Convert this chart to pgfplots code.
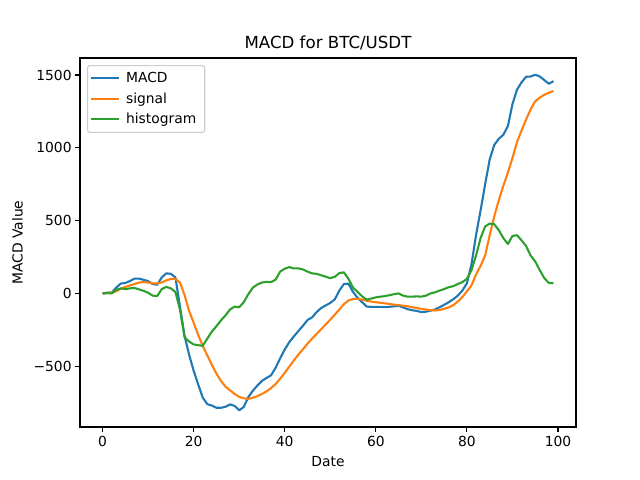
\documentclass[border=0pt]{standalone}
\usepackage{fontspec}
\setmainfont{DejaVu Sans}
\usepackage{pgfplots}
\pgfplotsset{compat=1.18}
\usepackage{pgfplotstable}

\definecolor{mplblue}{HTML}{1F77B4}
\definecolor{mplorange}{HTML}{FF7F0E}
\definecolor{mplgreen}{HTML}{2CA02C}

% columns: index, MACD, signal, histogram
\pgfplotstableread{
i macd signal hist
0 0 0 0
1 5 3 3
2 5 6 0
3 40 15 25
4 68 32 35
5 72 45 30
6 85 55 35
7 102 65 38
8 102 75 28
9 94 78 18
10 85 75 5
11 65 70 -15
12 60 68 -18
13 110 76 30
14 138 90 45
15 135 100 35
16 110 100 10
17 -90 75 -110
18 -290 -10 -300
19 -420 -120 -330
20 -530 -200 -350
21 -625 -285 -355
22 -715 -360 -360
23 -760 -425 -310
24 -770 -490 -262
25 -785 -550 -225
26 -785 -600 -185
27 -778 -640 -150
28 -762 -665 -110
29 -772 -690 -90
30 -802 -710 -95
31 -780 -720 -60
32 -712 -724 -5
33 -668 -716 40
34 -632 -705 62
35 -600 -690 75
36 -580 -672 80
37 -562 -650 78
38 -510 -622 95
39 -445 -585 150
40 -385 -545 170
41 -334 -503 181
42 -295 -460 172
43 -258 -420 172
44 -222 -383 165
45 -182 -345 150
46 -165 -310 138
47 -128 -278 135
48 -100 -245 125
49 -82 -213 115
50 -65 -180 105
51 -40 -145 115
52 20 -110 140
53 65 -73 145
54 67 -48 100
55 10 -38 40
56 -30 -37 10
57 -60 -42 -20
58 -90 -50 -42
59 -92 -56 -35
60 -92 -60 -27
61 -92 -64 -22
62 -94 -68 -18
63 -92 -72 -12
64 -88 -77 -5
65 -85 -80 0
66 -96 -84 -15
67 -108 -88 -22
68 -115 -94 -22
69 -120 -100 -20
70 -128 -106 -22
71 -125 -110 -15
72 -118 -114 0
73 -110 -117 8
74 -95 -114 20
75 -78 -105 30
76 -60 -96 43
77 -40 -80 50
78 -15 -55 65
79 20 -25 78
80 70 15 100
81 200 55 160
82 400 130 260
83 570 190 380
84 750 260 460
85 920 400 480
86 1020 530 475
87 1062 640 435
88 1090 740 380
89 1150 830 340
90 1300 930 395
91 1400 1040 400
92 1450 1120 365
93 1488 1195 325
94 1490 1265 260
95 1502 1320 220
96 1490 1345 160
97 1465 1365 105
98 1440 1378 72
99 1458 1390 70
}\macdtable

\begin{document}
\begin{tikzpicture}[x=1bp,y=1bp]
\begin{axis}[
    scale only axis,
    width=496bp, height=369bp,
    xmin=-4.95, xmax=103.95,
    ymin=-917, ymax=1617,
    xtick={0,20,40,60,80,100},
    ytick={-500,0,500,1000,1500},
    yticklabels={−500,0,500,1000,1500},
    /pgf/number format/assume math mode=true,
    tick align=outside,
    tick pos=left,
    major tick length=4.9bp,
    every tick/.style={black, line width=1.1bp},
    axis line style={line width=1.1bp},
    ticklabel style={font=\fontsize{13.9}{16}\selectfont},
    xticklabel style={yshift=-1bp},
    title={MACD for BTC/USDT},
    title style={font=\fontsize{16.7}{20}\selectfont, yshift=-2bp},
    xlabel={Date},
    ylabel={MACD Value},
    label style={font=\fontsize{13.9}{16}\selectfont},
    xlabel style={yshift=-3bp},
    ylabel style={yshift=4bp},
    legend cell align=left,
    legend style={
        at={(0.014,0.981)}, anchor=north west,
        draw=black!20, rounded corners=2.5bp, line width=1.1bp,
        font=\fontsize{13.9}{16}\selectfont,
        inner xsep=2.5bp, inner ysep=5bp,
        row sep=4.5bp,
        nodes={inner xsep=6bp},
    },
    legend image code/.code={\draw[#1, line width=2.08bp] (0bp,0bp) -- (28bp,0bp);},
    every axis plot/.append style={line width=2.08bp, line join=round},
]
\addplot[mplblue, no marks] table[x=i, y=macd] {\macdtable};
\addlegendentry{MACD}
\addplot[mplorange, no marks] table[x=i, y=signal] {\macdtable};
\addlegendentry{signal}
\addplot[mplgreen, no marks] table[x=i, y=hist] {\macdtable};
\addlegendentry{histogram}
\end{axis}
\pgfresetboundingbox
\path (current axis.south west) ++(-80bp,-53bp) rectangle ++(640bp,480bp);
\end{tikzpicture}
\end{document}
